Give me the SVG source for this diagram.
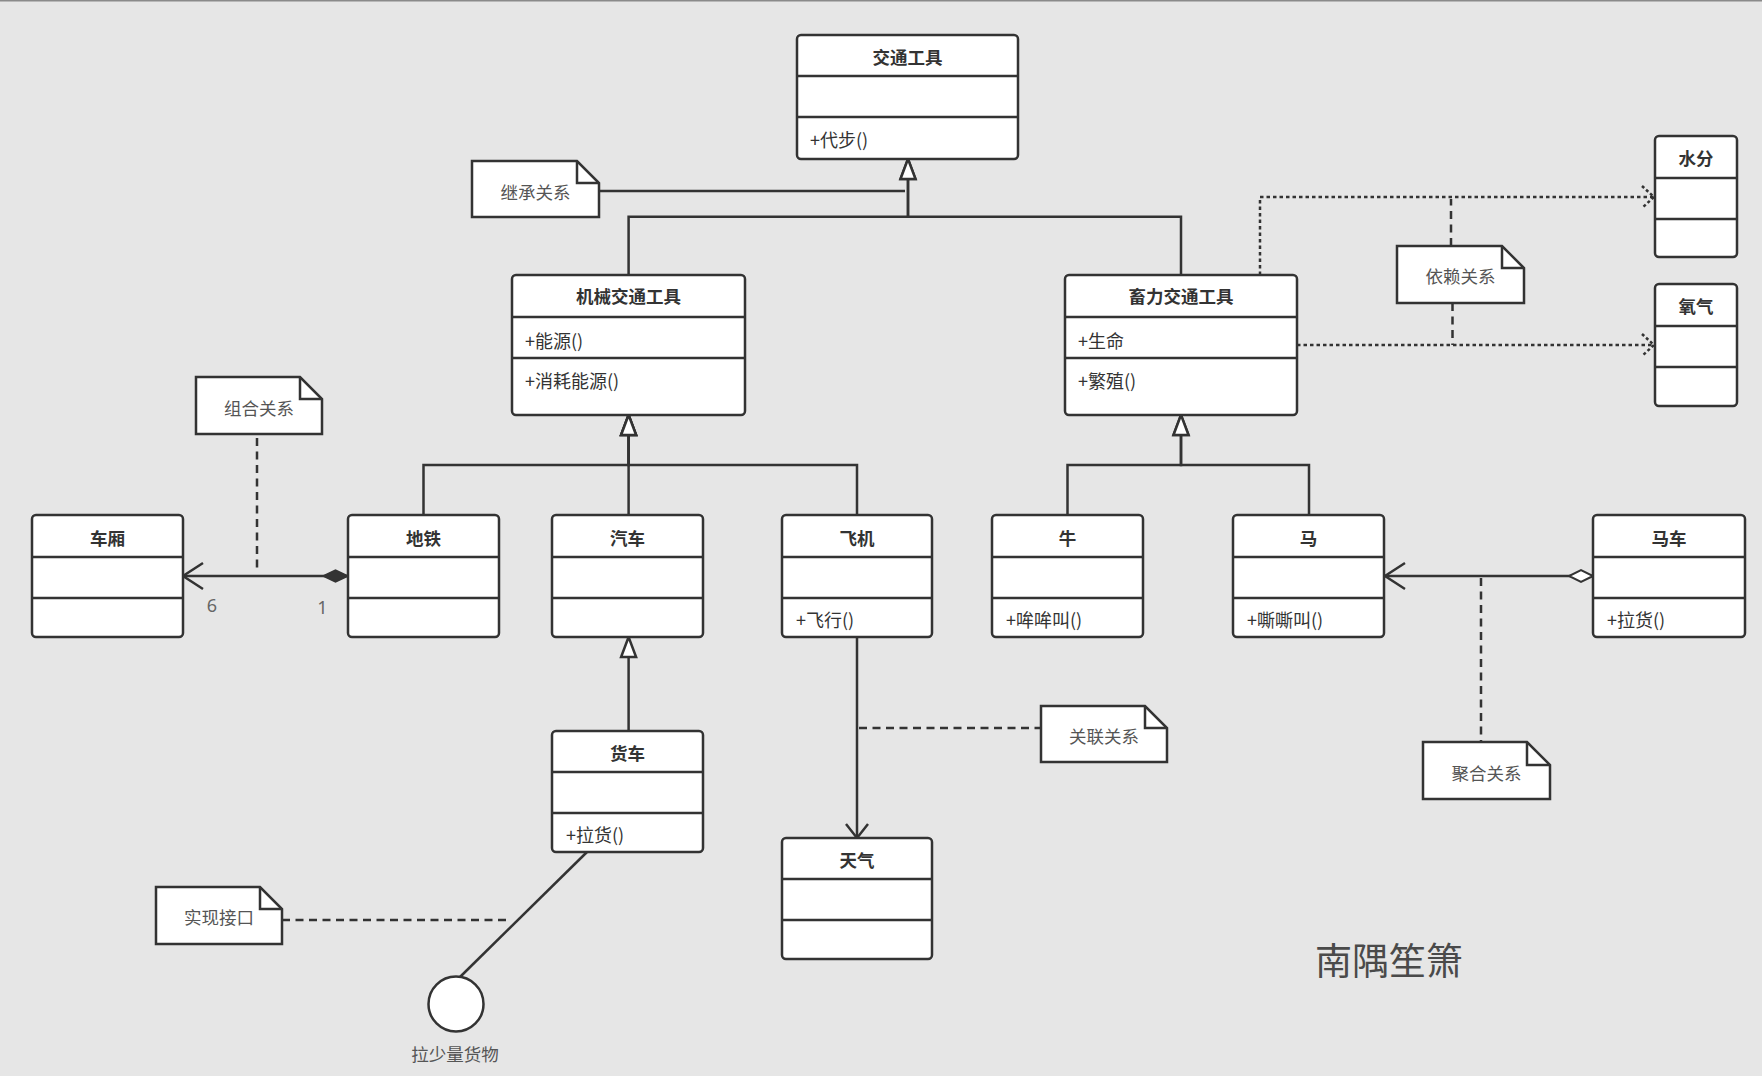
<svg xmlns="http://www.w3.org/2000/svg" width="1762" height="1076" viewBox="0 0 1762 1076">
<style>
  .bg { fill: #e6e6e6; }
  .box { fill: #ffffff; stroke: #333333; stroke-width: 2.5; }
  .div { stroke: #333333; stroke-width: 2.5; fill: none; }
  .title { font-family: "Noto Sans CJK SC", "Noto Sans", sans-serif; font-size: 17.5px; font-weight: bold; fill: #333333; text-anchor: middle; }
  .member { font-family: "Noto Sans CJK SC", "Noto Sans", sans-serif; font-size: 18px; fill: #333333; }
  .note { fill: #ffffff; stroke: #333333; stroke-width: 2.5; stroke-linejoin: miter; }
  .fold { fill: none; stroke: #333333; stroke-width: 2.5; }
  .notetext { font-family: "Noto Sans CJK SC", "Noto Sans", sans-serif; font-size: 17.5px; fill: #555555; text-anchor: middle; }
  .line { fill: none; stroke: #333333; stroke-width: 2.5; }
  .dash { fill: none; stroke: #333333; stroke-width: 2.5; stroke-dasharray: 8 5.5; }
  .dot { fill: none; stroke: #333333; stroke-width: 2.5; stroke-dasharray: 3.5 3; }
  .mult { font-family: "Noto Sans", "Liberation Sans", sans-serif; font-size: 18px; fill: #666666; text-anchor: middle; }
  .mark { font-family: "Noto Sans CJK SC", sans-serif; font-size: 37px; font-weight: normal; fill: #4a4a4a; }
</style>
<defs>
  <marker id="tri" markerUnits="userSpaceOnUse" markerWidth="30" markerHeight="30" viewBox="-25 -15 30 30" refX="0" refY="0" orient="auto" style="overflow:visible">
    <path d="M0,0 L-20,-7.5 L-20,7.5 Z" fill="#ffffff" stroke="#333333" stroke-width="2.5"/>
  </marker>
  <marker id="open" markerUnits="userSpaceOnUse" markerWidth="30" markerHeight="30" viewBox="-25 -15 30 30" refX="0" refY="0" orient="auto" style="overflow:visible">
    <path d="M-20,-13 L0,0 L-20,13" fill="none" stroke="#333333" stroke-width="2.5"/>
  </marker>
  <marker id="openSm" markerUnits="userSpaceOnUse" markerWidth="30" markerHeight="30" viewBox="-25 -15 30 30" refX="0" refY="0" orient="auto" style="overflow:visible">
    <path d="M-14,-11 L0,0 L-14,11" fill="none" stroke="#333333" stroke-width="2.5"/>
  </marker>
  <marker id="dep" markerUnits="userSpaceOnUse" markerWidth="30" markerHeight="30" viewBox="-25 -15 30 30" refX="0" refY="0" orient="auto" style="overflow:visible">
    <path d="M-12,-11 L0,0 L-12,11" fill="none" stroke="#333333" stroke-width="2.5" stroke-dasharray="3 2.5"/>
  </marker>
  <marker id="diamondFilled" markerUnits="userSpaceOnUse" markerWidth="30" markerHeight="30" viewBox="-2 -15 30 30" refX="0" refY="0" orient="auto" style="overflow:visible">
    <path d="M0,0 L12.5,-6 L25,0 L12.5,6 Z" fill="#333333" stroke="#333333" stroke-width="1.5"/>
  </marker>
  <marker id="diamondHollow" markerUnits="userSpaceOnUse" markerWidth="30" markerHeight="30" viewBox="-2 -15 30 30" refX="0" refY="0" orient="auto" style="overflow:visible">
    <path d="M0,0 L12,-6 L24,0 L12,6 Z" fill="#ffffff" stroke="#333333" stroke-width="2"/>
  </marker>
</defs>

<rect class="bg" x="0" y="0" width="1762" height="1076"/>
<line x1="0" y1="0.75" x2="1762" y2="0.75" stroke="#8a8a8a" stroke-width="1.5"/>

<g id="connectors">
  <!-- inheritance -->
  <path class="line" d="M628.6,275 V216.7 H908 V159" marker-end="url(#tri)"/>
  <path class="line" d="M1181,275 V216.7 H908 V159" marker-end="url(#tri)"/>
  <path class="line" d="M423.5,515 V465 H628.6 V415" marker-end="url(#tri)"/>
  <path class="line" d="M628.6,515 V415" marker-end="url(#tri)"/>
  <path class="line" d="M857,515 V465 H628.6 V415" marker-end="url(#tri)"/>
  <path class="line" d="M1067.5,515 V465 H1181 V415" marker-end="url(#tri)"/>
  <path class="line" d="M1309,515 V465 H1181 V415" marker-end="url(#tri)"/>
  <path class="line" d="M628.6,731 V637" marker-end="url(#tri)"/>
  <!-- composition -->
  <path class="line" d="M348,576 H183" marker-start="url(#diamondFilled)" marker-end="url(#open)"/>
  <!-- aggregation -->
  <path class="line" d="M1593,576 H1385" marker-start="url(#diamondHollow)" marker-end="url(#open)"/>
  <!-- association -->
  <path class="line" d="M857,637 V838" marker-end="url(#openSm)"/>
  <!-- dependency -->
  <path class="dot" d="M1260,275 V197 H1654" marker-end="url(#dep)"/>
  <path class="dot" d="M1297,345 H1654" marker-end="url(#dep)"/>
  <!-- interface realization -->
  <path class="line" d="M587,852 L460,977"/>
  <!-- note links -->
  <path class="line" d="M599,191 H905"/>
  <path class="dash" d="M257,438 V571"/>
  <path class="dash" d="M1481,578 V742"/>
  <path class="dash" d="M859,728 H1041"/>
  <path class="dash" d="M1451,246 V199"/>
  <path class="dash" d="M1452.5,303 V345"/>
  <path class="dash" d="M282,920 H511"/>
</g>

<g id="node-jiaotonggongju">
  <rect class="box" x="797" y="35" width="221" height="124" rx="4"/>
  <path class="div" d="M797,76 H1018 M797,117 H1018"/>
  <text class="title" x="907.5" y="64">交通工具</text>
  <text class="member" x="810" y="146.5">+代步()</text>
</g>

<g id="node-jixie">
  <rect class="box" x="512" y="275" width="233" height="140" rx="4"/>
  <path class="div" d="M512,317 H745 M512,358 H745"/>
  <text class="title" x="628.5" y="303">机械交通工具</text>
  <text class="member" x="525" y="347.5">+能源()</text>
  <text class="member" x="525" y="388">+消耗能源()</text>
</g>

<g id="node-xuli">
  <rect class="box" x="1065" y="275" width="232" height="140" rx="4"/>
  <path class="div" d="M1065,317 H1297 M1065,358 H1297"/>
  <text class="title" x="1181" y="303">畜力交通工具</text>
  <text class="member" x="1078" y="347.5">+生命</text>
  <text class="member" x="1078" y="388">+繁殖()</text>
</g>

<g id="node-shuifen">
  <rect class="box" x="1655" y="136" width="82" height="121" rx="4"/>
  <path class="div" d="M1655,178 H1737 M1655,219 H1737"/>
  <text class="title" x="1696" y="165">水分</text>
</g>

<g id="node-yangqi">
  <rect class="box" x="1655" y="284" width="82" height="122" rx="4"/>
  <path class="div" d="M1655,326 H1737 M1655,367 H1737"/>
  <text class="title" x="1696" y="313">氧气</text>
</g>

<g id="node-chexiang">
  <rect class="box" x="32" y="515" width="151" height="122" rx="4"/>
  <path class="div" d="M32,557 H183 M32,598 H183"/>
  <text class="title" x="107.5" y="545">车厢</text>
</g>

<g id="node-ditie">
  <rect class="box" x="348" y="515" width="151" height="122" rx="4"/>
  <path class="div" d="M348,557 H499 M348,598 H499"/>
  <text class="title" x="423.5" y="545">地铁</text>
</g>

<g id="node-qiche">
  <rect class="box" x="552" y="515" width="151" height="122" rx="4"/>
  <path class="div" d="M552,557 H703 M552,598 H703"/>
  <text class="title" x="627.5" y="545">汽车</text>
</g>

<g id="node-feiji">
  <rect class="box" x="782" y="515" width="150" height="122" rx="4"/>
  <path class="div" d="M782,557 H932 M782,598 H932"/>
  <text class="title" x="857" y="545">飞机</text>
  <text class="member" x="796" y="627">+飞行()</text>
</g>

<g id="node-niu">
  <rect class="box" x="992" y="515" width="151" height="122" rx="4"/>
  <path class="div" d="M992,557 H1143 M992,598 H1143"/>
  <text class="title" x="1067.5" y="545">牛</text>
  <text class="member" x="1006" y="627">+哞哞叫()</text>
</g>

<g id="node-ma">
  <rect class="box" x="1233" y="515" width="151" height="122" rx="4"/>
  <path class="div" d="M1233,557 H1384 M1233,598 H1384"/>
  <text class="title" x="1308.5" y="545">马</text>
  <text class="member" x="1247" y="627">+嘶嘶叫()</text>
</g>

<g id="node-mache">
  <rect class="box" x="1593" y="515" width="152" height="122" rx="4"/>
  <path class="div" d="M1593,557 H1745 M1593,598 H1745"/>
  <text class="title" x="1669" y="545">马车</text>
  <text class="member" x="1607" y="627">+拉货()</text>
</g>

<g id="node-huoche">
  <rect class="box" x="552" y="731" width="151" height="121" rx="4"/>
  <path class="div" d="M552,772 H703 M552,813 H703"/>
  <text class="title" x="627.5" y="760">货车</text>
  <text class="member" x="566" y="842">+拉货()</text>
</g>

<g id="node-tianqi">
  <rect class="box" x="782" y="838" width="150" height="121" rx="4"/>
  <path class="div" d="M782,879 H932 M782,920 H932"/>
  <text class="title" x="857" y="867">天气</text>
</g>

<g id="node-interface">
  <circle class="box" cx="456" cy="1004" r="27.5"/>
  <text class="notetext" x="455" y="1060.5">拉少量货物</text>
</g>

<g id="note-jicheng">
  <path class="note" d="M472,161 H577 L599,183 V217 H472 Z"/>
  <path class="fold" d="M577,161 V183 H599"/>
  <text class="notetext" x="535.5" y="199">继承关系</text>
</g>

<g id="note-zuhe">
  <path class="note" d="M196,377 H300 L322,399 V434 H196 Z"/>
  <path class="fold" d="M300,377 V399 H322"/>
  <text class="notetext" x="259" y="414.5">组合关系</text>
</g>

<g id="note-yilai">
  <path class="note" d="M1397,246 H1502 L1524,268 V303 H1397 Z"/>
  <path class="fold" d="M1502,246 V268 H1524"/>
  <text class="notetext" x="1460.5" y="283">依赖关系</text>
</g>

<g id="note-juhe">
  <path class="note" d="M1423,742 H1527 L1550,765 V799 H1423 Z"/>
  <path class="fold" d="M1527,742 V765 H1550"/>
  <text class="notetext" x="1486.5" y="779.5">聚合关系</text>
</g>

<g id="note-guanlian">
  <path class="note" d="M1041,706 H1145 L1167,728 V762 H1041 Z"/>
  <path class="fold" d="M1145,706 V728 H1167"/>
  <text class="notetext" x="1104" y="743">关联关系</text>
</g>

<g id="note-shixian">
  <path class="note" d="M156,887 H260 L282,909 V944 H156 Z"/>
  <path class="fold" d="M260,887 V909 H282"/>
  <text class="notetext" x="219" y="924">实现接口</text>
</g>

<g id="labels">
  <text class="mult" x="212" y="612">6</text>
  <text class="mult" x="322.5" y="614">1</text>
  <text class="mark" x="1315" y="975">南隅笙箫</text>
</g>
</svg>
